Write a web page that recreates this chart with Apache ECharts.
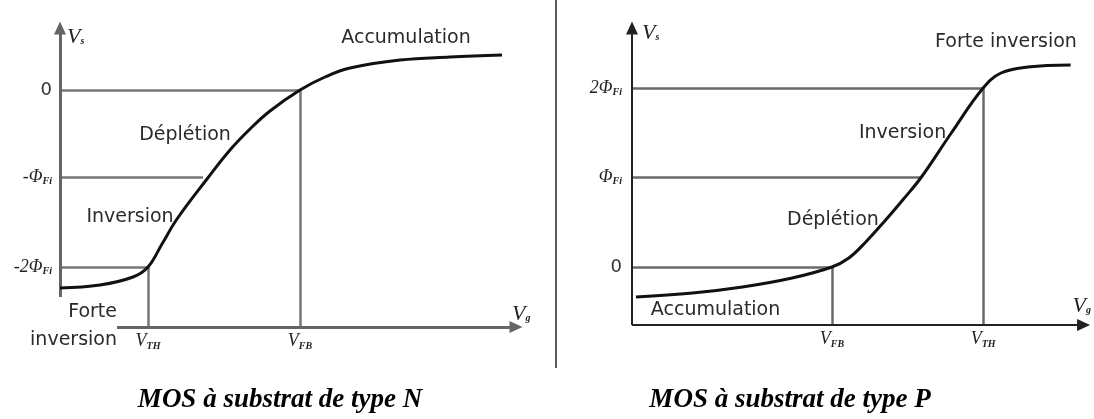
<!DOCTYPE html>
<html>
<head>
<meta charset="utf-8">
<script src="https://cdn.jsdelivr.net/npm/echarts@6/dist/echarts.min.js"></script>
<style>html,body{margin:0;background:#fff}#c{width:1094px;height:419px}</style>
</head>
<body>
<div id="c"></div>
<script>
// ---- MOS à substrat de type N (left) ----
var nVg = [0, 4, 7.3, 8.8, 10.2, 11.7, 14.7, 17, 19, 21, 24, 26.5, 29, 34, 39, 44.2];
var nVs = [3.9, 4.2, 5.0, 6.0, 8.3, 10.8, 14.8, 17.7, 19.8, 21.6, 23.7, 25, 25.9, 26.7, 27, 27.2];
var nTickVg = [8.8, 24];             // V_TH, V_FB
var nTickVgName = ['TH', 'FB'];
var nTickVgTop = [6, 23.7];          // where the vertical guides stop
var nTickVs = [6, 15, 23.7];         // -2Φ, -Φ, 0
var nTickVsName = ['-2Φ', '-Φ', '0'];
var nGuideEnd = [8.8, 14.3, 24];     // where the horizontal guides stop
var nRegion = ['Accumulation', 'Déplétion', 'Inversion', 'Forte', 'inversion'];
var nRegionVg = [34.6, 12.5, 7.0, 5.7, 5.7];
var nRegionVs = [28.9, 19.2, 11.0, 1.5, -1.3];

// ---- MOS à substrat de type P (right) ----
var pVg = [0.4, 6.1, 11.1, 16.1, 20.1, 21.8, 23.5, 25.5, 27.3, 29.1, 32.1, 35.3, 37.1, 39.8, 44.1];
var pVs = [2.8, 3.2, 3.8, 4.7, 5.8, 6.7, 8.3, 10.5, 12.6, 14.8, 19.2, 23.7, 25.2, 25.8, 26.0];
var pTickVg = [20.1, 35.3];          // V_FB, V_TH
var pTickVgName = ['FB', 'TH'];
var pTickVgTop = [5.8, 23.7];
var pTickVs = [5.8, 14.8, 23.7];     // 0, Φ, 2Φ
var pTickVsName = ['0', 'Φ', '2Φ'];
var pGuideEnd = [20.1, 29.1, 35.3];
var pRegion = ['Forte inversion', 'Inversion', 'Déplétion', 'Accumulation'];
var pRegionVg = [37.6, 27.2, 20.2, 8.4];
var pRegionVs = [28.3, 19.2, 10.5, 1.5];

var rich = {
    v: {fontFamily: 'Liberation Serif', fontStyle: 'italic', fontSize: 18, color: '#222'},
    b: {fontFamily: 'Liberation Serif', fontStyle: 'italic', fontSize: 22, color: '#222'},
    s: {fontFamily: 'Liberation Serif', fontStyle: 'italic', fontWeight: 'bold', fontSize: 10, color: '#222', padding: [9, 0, 0, 0]},
    z: {fontFamily: 'DejaVu Sans', fontSize: 18, color: '#333'}
};

function pick(ticks, names, v) {
    for (var i = 0; i < ticks.length; i++) {
        if (Math.abs(ticks[i] - v) < 1e-6) return names[i];
    }
    return '';
}

var side = [
    {vg: nVg, vs: nVs, tvg: nTickVg, tvgName: nTickVgName, tvgTop: nTickVgTop,
     tvs: nTickVs, tvsName: nTickVsName, gEnd: nGuideEnd,
     reg: nRegion, regVg: nRegionVg, regVs: nRegionVs,
     grid: {left: 60, top: 22, width: 460, height: 305}, xmax: 46, ymax: 30.5,
     yAxisLine: [[0, 3.0], [0, 29.9]], xAxisLine: [[5.7, 0], [45.6, 0]],
     axisColor: '#666', axisWidth: 3, guideColor: '#777', guideWidth: 2.5,
     yMargin: 8, vgGap: -8, vgPad: 2},
    {vg: pVg, vs: pVs, tvg: pTickVg, tvgName: pTickVgName, tvgTop: pTickVgTop,
     tvs: pTickVs, tvsName: pTickVsName, gEnd: pGuideEnd,
     reg: pRegion, regVg: pRegionVg, regVs: pRegionVs,
     grid: {left: 632, top: 22, width: 458, height: 303}, xmax: 45.8, ymax: 30.3,
     yAxisLine: [[0, 0], [0, 29.7]], xAxisLine: [[0, 0], [45.4, 0]],
     axisColor: '#222', axisWidth: 2, guideColor: '#6a6a6a', guideWidth: 2.5,
     yMargin: 10, vgGap: -15, vgPad: 8}
];

var grids = [], xAxes = [], yAxes = [], series = [];
side.forEach(function (d, k) {
    grids.push(d.grid);
    xAxes.push({
        gridIndex: k, type: 'value', min: 0, max: d.xmax,
        axisLine: {show: false}, axisTick: {show: false}, splitLine: {show: false},
        axisLabel: {
            customValues: d.tvg, margin: 5, rich: rich,
            formatter: function (v) { return '{v|V}{s|' + pick(d.tvg, d.tvgName, v) + '}'; }
        },
        name: '{b|V}{s|g}', nameLocation: 'end', nameGap: d.vgGap,
        nameTextStyle: {rich: rich, align: 'left', verticalAlign: 'bottom', padding: [0, 0, d.vgPad, 0]}
    });
    yAxes.push({
        gridIndex: k, type: 'value', min: 0, max: d.ymax,
        axisLine: {show: false}, axisTick: {show: false}, splitLine: {show: false},
        axisLabel: {
            customValues: d.tvs, margin: d.yMargin, rich: rich,
            formatter: function (v) {
                var t = pick(d.tvs, d.tvsName, v);
                return t === '0' ? '{z|0}' : '{v|' + t + '}{s|Fi}';
            }
        },
        name: '{b|V}{s|s}', nameLocation: 'end', nameGap: k === 0 ? -4 : 0,
        nameTextStyle: {rich: rich, align: 'left', verticalAlign: 'top', padding: [0, 0, 0, k === 0 ? 7 : 10]}
    });

    var lines = [];
    d.tvs.forEach(function (y, i) {
        lines.push([{coord: [0, y]}, {coord: [d.gEnd[i], y]}]);
    });
    d.tvg.forEach(function (x, i) {
        lines.push([{coord: [x, 0]}, {coord: [x, d.tvgTop[i]]}]);
    });
    var axisStyle = {color: d.axisColor, width: d.axisWidth, type: 'solid'};
    lines.push([{coord: d.yAxisLine[0], lineStyle: axisStyle}, {coord: d.yAxisLine[1], symbol: 'triangle', symbolSize: [12, 13]}]);
    lines.push([{coord: d.xAxisLine[0], lineStyle: axisStyle}, {coord: d.xAxisLine[1], symbol: 'triangle', symbolSize: [12, 13]}]);

    series.push({
        type: 'line', xAxisIndex: k, yAxisIndex: k, data: [], silent: true,
        markLine: {
            silent: true, symbol: 'none', label: {show: false}, animation: false,
            lineStyle: {color: d.guideColor, width: d.guideWidth, type: 'solid'},
            itemStyle: {color: d.axisColor},
            emphasis: {disabled: true},
            data: lines
        }
    });

    series.push({
        type: 'line', xAxisIndex: k, yAxisIndex: k, symbol: 'none', silent: true,
        smooth: 0.4,
        lineStyle: {color: '#111', width: 3},
        data: d.vg.map(function (x, i) { return [x, d.vs[i]]; }),
        z: 5
    });

    series.push({
        type: 'scatter', xAxisIndex: k, yAxisIndex: k, symbolSize: 0, silent: true, clip: false,
        itemStyle: {opacity: 1, color: '#222'},
        label: {show: true, position: 'inside', formatter: '{b}', opacity: 1,
                textBorderWidth: 0, fontFamily: 'DejaVu Sans', fontSize: 19, color: '#2a2a2a'},
        data: d.reg.map(function (name, i) {
            var item = {name: name, value: [d.regVg[i], d.regVs[i]]};
            if (k === 0 && (name === 'Forte' || name === 'inversion')) {
                item.label = {position: 'left', distance: 0};
            }
            return item;
        }),
        z: 6
    });
});

var chart = echarts.init(document.getElementById('c'));
chart.setOption({
    animation: false,
    title: [
        {text: 'MOS à substrat de type N', left: 280, top: 387, textAlign: 'center', padding: 0,
         textStyle: {fontFamily: 'Liberation Serif', fontStyle: 'italic', fontWeight: 'bold', fontSize: 27, color: '#000'}},
        {text: 'MOS à substrat de type P', left: 790, top: 387, textAlign: 'center', padding: 0,
         textStyle: {fontFamily: 'Liberation Serif', fontStyle: 'italic', fontWeight: 'bold', fontSize: 27, color: '#000'}}
    ],
    grid: grids,
    xAxis: xAxes,
    yAxis: yAxes,
    series: series,
    graphic: [{type: 'line', shape: {x1: 556, y1: 0, x2: 556, y2: 368}, style: {stroke: '#222', lineWidth: 1.5}}]
});
</script>
</body>
</html>
